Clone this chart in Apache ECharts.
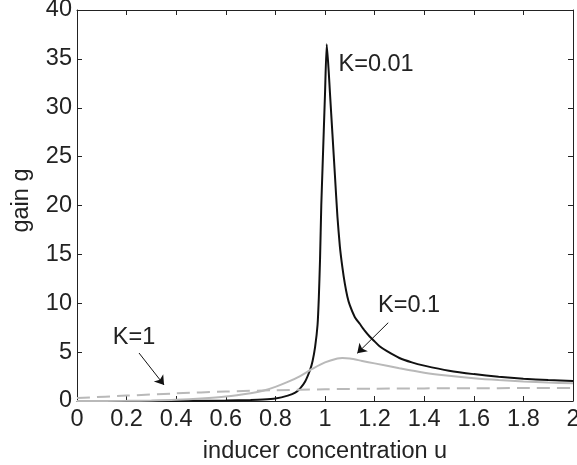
<!DOCTYPE html>
<html>
<head>
<meta charset="utf-8">
<script src="https://cdn.jsdelivr.net/npm/echarts@6/dist/echarts.min.js"></script>
<style>
  html, body { margin: 0; padding: 0; background: #fff; }
  #gain_chart { width: 577px; height: 465px; }
</style>
</head>
<body>
<div id="gain_chart"></div>
<script>
  // inducer concentration u and gain g for each K
  var uK001 = [0, 0.2, 0.4, 0.5, 0.6, 0.7, 0.75, 0.8, 0.85, 0.88, 0.9, 0.92, 0.94, 0.95, 0.96, 0.97, 0.975, 0.98, 0.985, 0.99,
    0.995, 1.0, 1.007, 1.015, 1.02, 1.03, 1.04, 1.05, 1.06, 1.07, 1.08, 1.09, 1.1, 1.12, 1.14, 1.16, 1.18, 1.2, 1.22, 1.25,
    1.3, 1.35, 1.4, 1.5, 1.6, 1.7, 1.8, 1.9, 2.0]
  var gK001 = [0, 0, 0.01, 0.02, 0.04, 0.1, 0.15, 0.26, 0.55, 0.85, 1.3, 2.0, 3.2, 4.1, 5.5, 7.8, 10.5, 14.5, 20, 23.8,
    27.6, 31.4, 36.5, 33.7, 31.5, 27.3, 23.1, 18.9, 15.8, 13.7, 12, 10.7, 9.8, 8.6, 7.9, 7.2, 6.6, 6.1, 5.6, 5.1,
    4.4, 3.95, 3.62, 3.1, 2.75, 2.48, 2.28, 2.14, 2.04]

  var uK01 = [0, 0.2, 0.3, 0.4, 0.5, 0.6, 0.7, 0.75, 0.8, 0.85, 0.9, 0.95, 1.0, 1.05, 1.07, 1.1, 1.15, 1.2, 1.3, 1.4,
    1.5, 1.6, 1.7, 1.8, 1.9, 2.0]
  var gK01 = [0, 0.02, 0.05, 0.12, 0.25, 0.45, 0.8, 1.05, 1.45, 1.95, 2.55, 3.3, 3.95, 4.35, 4.4, 4.35, 4.1, 3.85, 3.35, 2.9,
    2.58, 2.33, 2.14, 1.99, 1.89, 1.81]

  var uK1 = [0, 0.2, 0.4, 0.6, 0.8, 1.0, 1.2, 1.4, 1.6, 1.8, 2.0]
  var gK1 = [0.3, 0.55, 0.78, 0.97, 1.1, 1.2, 1.26, 1.29, 1.31, 1.32, 1.33]

  function pairs (xs, ys) {
    return xs.map(function (x, i) { return [x, ys[i]] })
  }

  var font = 'Liberation Sans, Arial, Helvetica, sans-serif'
  var fs = 23.5
  var ink = '#222'
  var grey = '#b9b9b9'

  var tick = { show: true, inside: true, length: 5, lineStyle: { color: ink, width: 1 } }
  var line = { show: true, onZero: false, lineStyle: { color: ink, width: 1 } }
  var annot = { show: true, position: 'inside', color: ink, fontSize: fs, fontFamily: font, formatter: '{b}' }
  var arrow = {
    silent: true,
    symbol: ['none', 'arrow'],
    symbolSize: 9,
    label: { show: false },
    lineStyle: { color: '#111', width: 1, type: 'solid' }
  }

  var myChart = echarts.init(document.getElementById('gain_chart'))

  var option = {
    animation: false,
    grid: { left: 77, right: 4, top: 10, bottom: 64, containLabel: false, outerBoundsMode: 'none' },
    xAxis: [{
      type: 'value',
      min: 0,
      max: 2,
      interval: 0.2,
      name: 'inducer concentration u',
      nameLocation: 'middle',
      nameGap: 39,
      nameTextStyle: { color: ink, fontSize: fs, fontFamily: font },
      axisLine: line,
      axisTick: tick,
      splitLine: { show: false },
      axisLabel: { color: ink, fontSize: fs, fontFamily: font, margin: 7 }
    }, {
      type: 'value',
      position: 'top',
      min: 0,
      max: 2,
      interval: 0.2,
      axisLine: line,
      axisTick: tick,
      splitLine: { show: false },
      axisLabel: { show: false }
    }],
    yAxis: [{
      type: 'value',
      min: 0,
      max: 40,
      interval: 5,
      name: 'gain g',
      nameLocation: 'middle',
      nameGap: 43,
      nameTextStyle: { color: ink, fontSize: fs, fontFamily: font, padding: [0, 0, 0, 10] },
      axisLine: line,
      axisTick: tick,
      splitLine: { show: false },
      axisLabel: { color: ink, fontSize: fs, fontFamily: font, margin: 5 }
    }, {
      type: 'value',
      position: 'right',
      min: 0,
      max: 40,
      interval: 5,
      axisLine: line,
      axisTick: tick,
      splitLine: { show: false },
      axisLabel: { show: false }
    }],
    series: [{
      name: 'K=0.01',
      type: 'line',
      showSymbol: false,
      smooth: 0.2,
      lineStyle: { color: '#111', width: 2 },
      data: pairs(uK001, gK001),
      markPoint: {
        silent: true,
        symbolSize: 0,
        label: annot,
        data: [{ name: 'K=0.01', coord: [1.206, 34.4] }]
      }
    }, {
      name: 'K=0.1',
      type: 'line',
      showSymbol: false,
      smooth: 0.3,
      lineStyle: { color: grey, width: 2 },
      data: pairs(uK01, gK01),
      markPoint: {
        silent: true,
        symbolSize: 0,
        label: annot,
        data: [{ name: 'K=0.1', coord: [1.339, 9.77] }]
      },
      markLine: Object.assign({}, arrow, {
        data: [[{ coord: [1.255, 8.01] }, { coord: [1.13, 4.88] }]]
      })
    }, {
      name: 'K=1',
      type: 'line',
      showSymbol: false,
      smooth: 0.3,
      lineStyle: { color: grey, width: 2, type: [13, 7] },
      data: pairs(uK1, gK1),
      markPoint: {
        silent: true,
        symbolSize: 0,
        label: annot,
        data: [{ name: 'K=1', coord: [0.23, 6.45] }]
      },
      markLine: Object.assign({}, arrow, {
        data: [[{ coord: [0.25, 4.91] }, { coord: [0.351, 1.64] }]]
      })
    }]
  }

  myChart.setOption(option)
</script>
</body>
</html>
